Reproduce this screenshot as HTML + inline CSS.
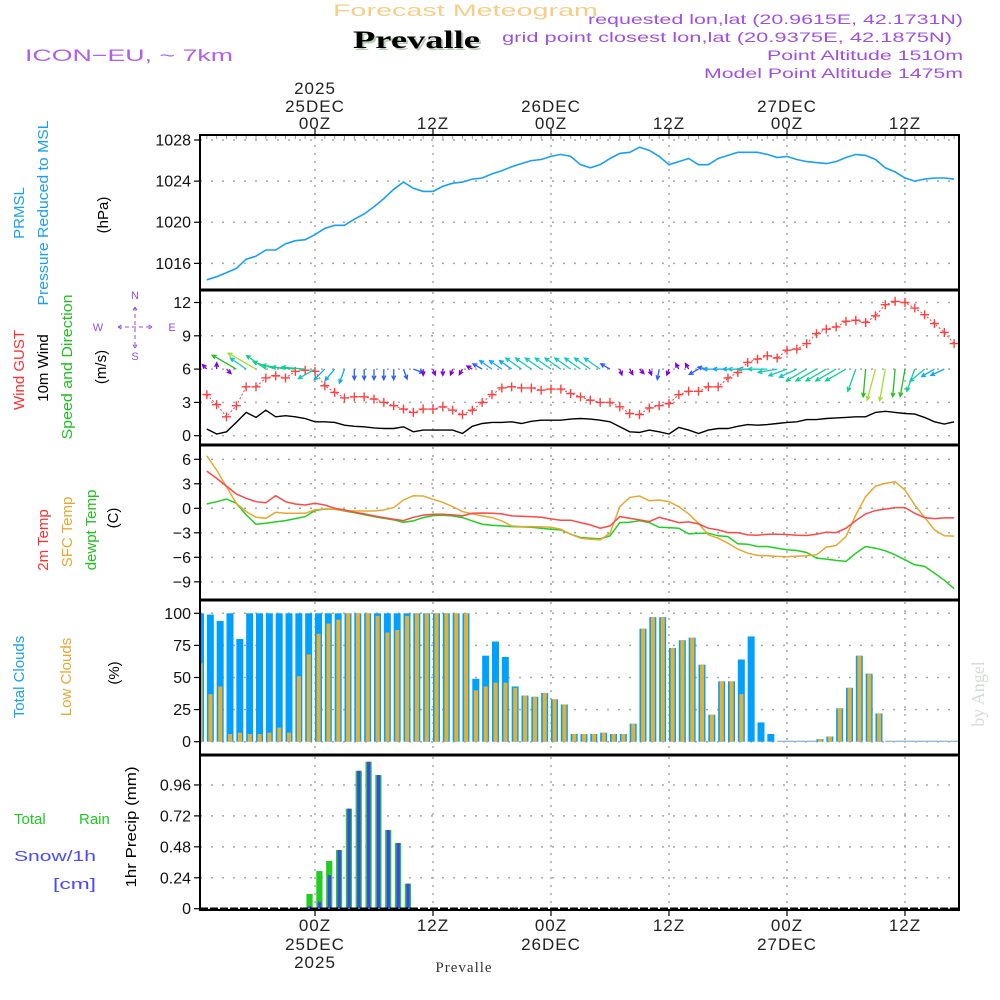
<!DOCTYPE html>
<html><head><meta charset="utf-8"><style>
html,body{margin:0;padding:0;background:#fff;}
svg{display:block;font-family:"Liberation Sans",sans-serif;}
</style></head><body>
<svg id="chart" width="1000" height="1000" viewBox="0 0 1000 1000" xmlns="http://www.w3.org/2000/svg">
<rect width="1000" height="1000" fill="#fff"/>
<text x="333" y="16" font-size="17" fill="#f5cf8a" textLength="265" lengthAdjust="spacingAndGlyphs">Forecast Meteogram</text>
<text x="355" y="50" font-size="25" font-weight="bold" font-family="Liberation Serif, serif" fill="#b9cbb9" textLength="127" lengthAdjust="spacingAndGlyphs">Prevalle</text>
<text x="353" y="48" font-size="25" font-weight="bold" font-family="Liberation Serif, serif" fill="#000" textLength="127" lengthAdjust="spacingAndGlyphs">Prevalle</text>
<text x="25" y="61" font-size="17" fill="#b060e8" textLength="208" lengthAdjust="spacingAndGlyphs">ICON−EU,  ~  7km</text>
<g fill="#a050e0" font-size="14">
<text x="588" y="24" textLength="375" lengthAdjust="spacingAndGlyphs">requested lon,lat (20.9615E, 42.1731N)</text>
<text x="502" y="42" textLength="450" lengthAdjust="spacingAndGlyphs">grid point closest lon,lat (20.9375E, 42.1875N)</text>
<text x="767" y="60" textLength="196" lengthAdjust="spacingAndGlyphs">Point Altitude 1510m</text>
<text x="704" y="78" textLength="259" lengthAdjust="spacingAndGlyphs">Model Point Altitude 1475m</text>
</g>
<text transform="translate(984,694) rotate(-90)" text-anchor="middle" font-size="18" font-family="Liberation Serif, serif" fill="#d6dcd6">by Angel</text>
<text x="464" y="972" text-anchor="middle" font-size="15" font-family="Liberation Serif, serif" fill="#333" letter-spacing="1">Prevalle</text>

<g font-size="15">
<text transform="translate(24,213) rotate(-90)" text-anchor="middle" fill="#1aa0f0">PRMSL</text>
<text transform="translate(48,213) rotate(-90)" text-anchor="middle" fill="#1aa0f0" textLength="185" lengthAdjust="spacingAndGlyphs">Pressure Reduced to MSL</text>
<text transform="translate(108,215) rotate(-90)" text-anchor="middle" fill="#000">(hPa)</text>
<text transform="translate(24,370) rotate(-90)" text-anchor="middle" fill="#ff3030">Wind GUST</text>
<text transform="translate(48,368) rotate(-90)" text-anchor="middle" fill="#000">10m Wind</text>
<text transform="translate(72,367) rotate(-90)" text-anchor="middle" fill="#20c020" textLength="145" lengthAdjust="spacingAndGlyphs">Speed and Direction</text>
<text transform="translate(106,367) rotate(-90)" text-anchor="middle" fill="#000">(m/s)</text>
<text transform="translate(48,540) rotate(-90)" text-anchor="middle" fill="#ff3030">2m Temp</text>
<text transform="translate(72,532) rotate(-90)" text-anchor="middle" fill="#e8a830">SFC Temp</text>
<text transform="translate(96,530) rotate(-90)" text-anchor="middle" fill="#20c020">dewpt Temp</text>
<text transform="translate(118,518) rotate(-90)" text-anchor="middle" fill="#000">(C)</text>
<text transform="translate(24,677) rotate(-90)" text-anchor="middle" fill="#1aa0f0">Total Clouds</text>
<text transform="translate(71,677) rotate(-90)" text-anchor="middle" fill="#e8a830">Low Clouds</text>
<text transform="translate(119,673) rotate(-90)" text-anchor="middle" fill="#000">(%)</text>
<text transform="translate(136,827) rotate(-90)" text-anchor="middle" fill="#000" textLength="121" lengthAdjust="spacingAndGlyphs">1hr Precip (mm)</text>
<text x="14" y="824" fill="#20c820">Total</text>
<text x="79" y="824" fill="#20c820">Rain</text>
<text x="14" y="861" fill="#4848ff" textLength="82" lengthAdjust="spacingAndGlyphs">Snow/1h</text>
<text x="53" y="889" fill="#4848ff" textLength="43" lengthAdjust="spacingAndGlyphs">[cm]</text>
</g>
<g fill="#9050e0" font-size="11">
<text x="135" y="299" text-anchor="middle">N</text>
<text x="135" y="360" text-anchor="middle">S</text>
<text x="98" y="331" text-anchor="middle">W</text>
<text x="172" y="331" text-anchor="middle">E</text>
<path d="M118 327H152M118 327l5-3M118 327l5 3M152 327l-5-3M152 327l-5 3M135 307V348M135 307l-3 5M135 307l3 5M135 348l-3-5M135 348l3-5" stroke="#9050e0" stroke-width="1" fill="none" stroke-dasharray="4,3"/>
</g>
<g id="layer"></g>
</svg>
<script>
const seriesStartHour = -11;
const pressure = [1014.4,1014.7,1015.1,1015.5,1016.4,1016.7,1017.3,1017.3,1017.9,1018.2,1018.3,1018.8,1019.4,1019.7,1019.7,1020.3,1020.8,1021.5,1022.3,1023.2,1023.9,1023.3,1023.0,1023.0,1023.5,1023.8,1023.9,1024.2,1024.3,1024.7,1025.0,1025.4,1025.7,1026.0,1026.1,1026.4,1026.6,1026.4,
1025.6,1025.3,1025.6,1026.2,1026.7,1026.8,1027.3,1027.0,1026.4,1025.6,1025.9,1026.2,1025.6,1025.6,1026.2,1026.5,1026.8,1026.8,1026.8,1026.6,1026.3,1026.4,1026.1,1025.9,1025.8,1025.7,1025.9,1026.3,1026.6,1026.5,1026.1,1025.3,1024.9,1024.3,1024.0,1024.2,1024.3,1024.3,1024.2];
const windGust = [3.7,2.8,1.7,2.7,4.4,4.4,5.2,5.4,5.2,5.8,5.9,5.8,4.5,3.9,3.4,3.5,3.5,3.3,3.0,2.7,2.4,2.1,2.4,2.4,2.6,2.3,1.9,2.3,3.0,3.7,4.3,4.4,4.3,4.3,4.1,4.2,4.2,3.8,
3.5,3.2,3.0,3.0,2.6,2.0,1.9,2.5,2.7,2.9,3.7,4.0,4.0,4.4,4.4,5.2,5.7,6.6,6.9,7.2,7.0,7.7,7.8,8.3,9.2,9.6,9.8,10.3,10.4,10.2,10.8,11.8,12.1,12.0,11.5,10.9,10.1,9.3,8.3];
const windSpeed = [0.6,0.15,0.35,1.2,2.1,1.65,2.3,1.7,1.8,1.7,1.55,1.25,1.25,1.2,0.95,0.85,0.8,0.7,0.65,0.65,0.8,0.35,0.5,0.5,0.5,0.5,0.2,0.85,1.1,1.2,1.2,1.25,1.1,1.3,1.4,1.4,1.4,1.5,
1.55,1.5,1.4,1.25,0.8,0.35,0.3,0.5,0.35,0.15,0.75,0.5,0.2,0.5,0.65,0.65,0.85,1.0,0.95,1.0,1.1,1.2,1.25,1.45,1.45,1.55,1.6,1.65,1.7,1.7,2.1,2.2,2.1,2.0,1.95,1.65,1.25,1.05,1.25];
const windDir = [315,0,135,300,305,300,305,288,280,275,275,240,225,220,200,180,180,180,180,180,160,110,180,160,180,200,210,300,300,305,305,305,305,305,305,305,305,305,305,305,305,300,
160,150,135,160,190,200,330,330,240,280,270,270,270,270,270,270,260,250,245,240,240,240,240,240,200,185,195,190,185,190,200,230,240,245];
const windMag = [1,1,1,6,4,7,5,5,5,5,5,4,3,3,3,2,2,2,2,2,2,2,1,1,1,1,1,1,2,3,3,3,4,4,4,4,4,4,4,4,4,2,
1,1,1,1,2,1,1,1,2,2,3,3,3,4,4,4,4,4,4,5,5,5,5,5,5,6,7,7,6,6,5,4,3,3];
const temp2m = [4.55,3.66,2.72,1.75,1.22,0.81,0.69,1.54,0.81,0.53,0.41,0.61,0.41,0,-0.2,-0.49,-0.69,-0.93,-1.14,-1.34,-1.5,-1.1,-0.85,-0.73,-0.73,-0.81,-0.93,-0.61,-0.57,-0.61,-0.69,-0.93,-0.98,-1.02,-1.1,-1.3,-1.46,-1.46,
-1.75,-2.03,-2.44,-2.15,-1.02,-1.22,-1.42,-1.63,-1.1,-1.42,-1.75,-1.67,-1.91,-2.44,-2.64,-2.97,-2.97,-3.25,-3.29,-3.17,-3.17,-3.21,-3.29,-3.33,-3.17,-2.93,-2.97,-2.44,-1.5,-0.69,-0.28,-0.08,0.08,0.08,-0.61,-1.14,-1.26,-1.18,-1.18];
const tempSfc = [6.42,4.67,2.64,0.61,-0.41,-1.1,-1.22,-0.49,-0.61,-0.61,-0.61,-0.2,-0.08,-0.12,-0.28,-0.33,-0.33,-0.33,-0.2,0.08,1.02,1.54,1.5,1.1,0.73,0.2,-0.41,-0.69,-0.93,-1.14,-1.54,-2.15,-2.24,-2.24,-2.28,-2.32,-2.56,-3.17,
-3.66,-3.78,-3.86,-3.05,0.2,1.34,1.5,0.93,1.02,0.81,0.2,-0.69,-1.83,-3.25,-3.66,-4.27,-5.0,-5.49,-5.77,-5.81,-5.89,-5.93,-5.85,-5.81,-5.69,-4.76,-4.55,-3.46,-0.81,1.42,2.72,3.05,3.25,2.24,0.41,-1.1,-2.64,-3.37,-3.4];
const tempDew = [0.53,0.81,1.14,0.61,-0.81,-1.95,-1.83,-1.67,-1.5,-1.26,-1.02,-0.28,-0.08,-0.12,-0.33,-0.53,-0.77,-1.02,-1.22,-1.42,-1.71,-1.54,-1.14,-0.89,-0.85,-0.93,-1.14,-1.54,-1.95,-2.07,-2.15,-2.24,-2.28,-2.32,-2.44,-2.56,-2.64,-3.17,
-3.58,-3.66,-3.74,-3.37,-1.75,-1.71,-1.5,-1.75,-2.32,-2.36,-2.44,-3.13,-3.05,-3.05,-3.37,-3.46,-4.35,-4.39,-4.67,-4.67,-4.88,-5.08,-5.16,-5.41,-6.1,-6.22,-6.38,-6.5,-5.49,-4.67,-4.88,-5.2,-5.69,-6.3,-6.91,-7.11,-7.93,-8.8,-9.84];
const cloudStartHour = -12;
const cloudTotal = [100,99,94,100,80,100,100,100,100,100,100,100,100,100,100,100,100,100,100,100,100,100,100,100,100,100,100,100,
49,67,78,66,43,36,35,38,33,29,6,6,
6,7,6,6,14,88,97,97,73,79,81,60,21,47,47,64,82,15,6,0,0,0,0,2,4,26,42,67,53,22,
0,0,0,0,0,0,0,0];
const cloudLow = [61,37,43,6,7,6,6,7,11,7,51,68,84,92,95,100,100,100,98,85,87,98,100,100,100,100,100,100,
40,43,46,46,42,36,35,38,33,29,6,6,
6,7,6,6,14,88,97,97,73,79,81,60,21,47,47,37,0,0,0,0,0,0,0,2,4,26,42,67,53,22,
0,0,0,0,0,0,0,0];
const precipStartHour = -1;
const precipRain = [0.114,0.292,0.37,0.455,0.776,1.07,1.14,1.037,0.61,0.51,0.194];
const precipSnow = [0.02,0.054,0.26,0.455,0.776,1.07,1.14,1.037,0.61,0.51,0.194];
const pressureTicks = [1028,1024,1020,1016];
const windTicks = [12,9,6,3,0];
const tempTicks = [6,3,0,-3,-6,-9];
const cloudTicks = [100,75,50,25,0];
const precipTicks = [0.96,0.72,0.48,0.24,0];
const timeTickHours = [0,12,24,36,48,60];
const timeTickLabels = ["00Z","12Z","00Z","12Z","00Z","12Z"];
const dayLabels = ["25DEC","","26DEC","","27DEC",""];
const yearLabels = ["2025","","","","",""];

const X0=200, X1=959;
const xs = h => 315 + h*9.833;
const yP = p => 140 + (1028-p)*10.28;
const yW = v => 435.7 - v*11.1;
const yT = t => 508.3 - t*8.17;
const yC = c => 741.7 - c*1.284;
const yR = r => 908.7 - r*128.9;
const NS='http://www.w3.org/2000/svg';
const layer=document.getElementById('layer');
function mk(tag, attrs, parent){const e=document.createElementNS(NS,tag);for(const k in attrs)e.setAttribute(k,attrs[k]);(parent||layer).appendChild(e);return e;}

const panels=[{n:'pressure',top:135,bot:290,ticks:pressureTicks,y:yP,fmt:v=>String(v)},
{n:'wind',top:290,bot:445,ticks:windTicks,y:yW,fmt:v=>String(v)},
{n:'temperature',top:445,bot:600,ticks:tempTicks,y:yT,fmt:v=>v<0?'−'+(-v):String(v)},
{n:'clouds',top:600,bot:755,ticks:cloudTicks,y:yC,fmt:v=>String(v)},
{n:'precip',top:755,bot:910,ticks:precipTicks,y:yR,fmt:v=>v===0?'0':v.toFixed(2)}];
panels.forEach(p=>{
  const g=mk('g',{});
  
  
  p.ticks.forEach(t=>{
    const y=p.y(t);
    const gl=mk('line',{x1:X0,x2:X1,y1:y,y2:y,stroke:'#a8a8a8','stroke-width':1.5,'stroke-dasharray':'2,9'},g);
    
    
    mk('line',{x1:194,x2:X0,y1:y,y2:y,stroke:'#000','stroke-width':1.2},g);
    const tl=mk('text',{x:191,y:y+5.5,'text-anchor':'end','font-size':16,fill:'#111'},g);
    tl.textContent=p.fmt(t);
    
    
  });
  timeTickHours.forEach(h=>{
    const vl=mk('line',{x1:xs(h),x2:xs(h),y1:p.top+2,y2:p.bot-2,stroke:'#a8a8a8','stroke-width':1.5,'stroke-dasharray':'2,6'},g);
    
    
  });
});

function linePath(arr,start,yf){return arr.map((v,i)=>(i?'L':'M')+xs(start+i).toFixed(1)+' '+yf(v).toFixed(1)).join(' ');}
const pl=mk('path',{d:linePath(pressure,seriesStartHour,yP),fill:'none',stroke:'#18a0f5','stroke-width':1.6});



const wl=mk('path',{d:linePath(windSpeed,seriesStartHour,yW),fill:'none',stroke:'#000','stroke-width':1.4});


const gl=mk('path',{d:linePath(windGust,seriesStartHour,yW),fill:'none',stroke:'#ff4040','stroke-width':1,'stroke-dasharray':'2,2'});


windGust.forEach((v,i)=>{
  const x=xs(seriesStartHour+i), y=yW(v);
  const m=mk('path',{d:`M${x-4.5} ${y}H${x+4.5}M${x} ${y-4.5}V${y+4.5}`,stroke:'#ff4040','stroke-width':1.4});
  
  
});
const magColors=['#8000e0','#8000e0','#2c5cff','#10a8f0','#10c8c0','#10d090','#20c020','#a0e030'];
windDir.forEach((d,i)=>{
  const x=xs(seriesStartHour+i), y=yW(6);
  const len=4.3*windMag[i]+2;
  const r=d*Math.PI/180;
  const tx=x+len*Math.sin(r), ty=y-len*Math.cos(r);
  const hl=4.5, a1=r+Math.PI-0.45, a2=r+Math.PI+0.45;
  const c=magColors[windMag[i]];
  const a=mk('path',{d:`M${x.toFixed(1)} ${y.toFixed(1)}L${tx.toFixed(1)} ${ty.toFixed(1)}M${(tx+hl*Math.sin(a1)).toFixed(1)} ${(ty-hl*Math.cos(a1)).toFixed(1)}L${tx.toFixed(1)} ${ty.toFixed(1)}L${(tx+hl*Math.sin(a2)).toFixed(1)} ${(ty-hl*Math.cos(a2)).toFixed(1)}`,stroke:c,'stroke-width':1.3,fill:'none'});
  
  
});

[[tempDew,'#20d020','dewpoint-line'],[tempSfc,'#e8a830','sfc-temp-line'],[temp2m,'#ff4848','temp-2m-line']].forEach(([arr,c,n])=>{
  const p=mk('path',{d:linePath(arr,seriesStartHour,yT),fill:'none',stroke:c,'stroke-width':1.5});
  
  
});

const defs=mk('defs',{});
const cp=mk('clipPath',{id:'plotclip'},defs);
mk('rect',{x:X0+1,y:0,width:X1-X0-1,height:1000},cp);
const cg=mk('g',{'clip-path':'url(#plotclip)'});
cloudTotal.forEach((v,i)=>{
  const h=cloudStartHour+i, x=xs(h);
  const lo=cloudLow[i];
  if(v===0&&lo===0){
    const z=mk('rect',{x:x,y:yC(0)-1,width:9.8,height:1.2,fill:'#88b0d0'},cg);
    
    
    return;
  }
  const b=mk('rect',{x:x,y:yC(v),width:7,height:yC(0)-yC(v),fill:'#00a0ff'},cg);
  
  
  const o=mk('rect',{x:x+1.6,y:yC(lo),width:4,height:yC(0)-yC(lo),fill:'#e8b030'},cg);
  
  
});

precipRain.forEach((v,i)=>{
  const x=xs(precipStartHour+i)+1.3;
  const b=mk('rect',{x:x,y:yR(v),width:6.2,height:yR(0)-yR(v),fill:'#22cc22'});
  
  
  const s=precipSnow[i];
  const sb=mk('rect',{x:x+1.6,y:yR(s),width:3.3,height:yR(0)-yR(s),fill:'#4040ff'});
  
  
});

const fr=mk('g',{});


mk('rect',{x:X0,y:135,width:X1-X0,height:775,fill:'none',stroke:'#000','stroke-width':2},fr);
[290,445,600,755].forEach(y=>mk('line',{x1:X0,x2:X1,y1:y,y2:y,stroke:'#000','stroke-width':3},fr));
mk('line',{x1:X0,x2:X1,y1:908.5,y2:908.5,stroke:'#000','stroke-width':2,'stroke-dasharray':'8,2'},fr);
for(let h=-11;h<=65;h++){mk('line',{x1:xs(h),x2:xs(h),y1:136,y2:139,stroke:'#999','stroke-width':1},fr);}

timeTickHours.forEach((h,i)=>{
  const x=xs(h);
  mk('line',{x1:x,x2:x,y1:129,y2:135,stroke:'#000','stroke-width':1.2},fr);
  mk('line',{x1:x,x2:x,y1:910,y2:916,stroke:'#000','stroke-width':1.2},fr);
  const t1=mk('text',{x:x,y:129,'text-anchor':'middle','font-size':17,fill:'#222','letter-spacing':'1'});
  t1.textContent=timeTickLabels[i];
  
  
  const b1=mk('text',{x:x,y:931,'text-anchor':'middle','font-size':17,fill:'#222','letter-spacing':'1'});
  b1.textContent=timeTickLabels[i];
  
  
  if(dayLabels[i]){
    const t2=mk('text',{x:x,y:112,'text-anchor':'middle','font-size':17,fill:'#222','letter-spacing':'1'});
    t2.textContent=dayLabels[i];
    
    
    const b2=mk('text',{x:x,y:950,'text-anchor':'middle','font-size':17,fill:'#222','letter-spacing':'1'});
    b2.textContent=dayLabels[i];
    
    
  }
  if(yearLabels[i]){
    const t3=mk('text',{x:x,y:94,'text-anchor':'middle','font-size':17,fill:'#222','letter-spacing':'1'});
    t3.textContent=yearLabels[i];
    
    
    const b3=mk('text',{x:x,y:968,'text-anchor':'middle','font-size':17,fill:'#222','letter-spacing':'1'});
    b3.textContent=yearLabels[i];
    
    
  }
});
</script>
</body></html>
